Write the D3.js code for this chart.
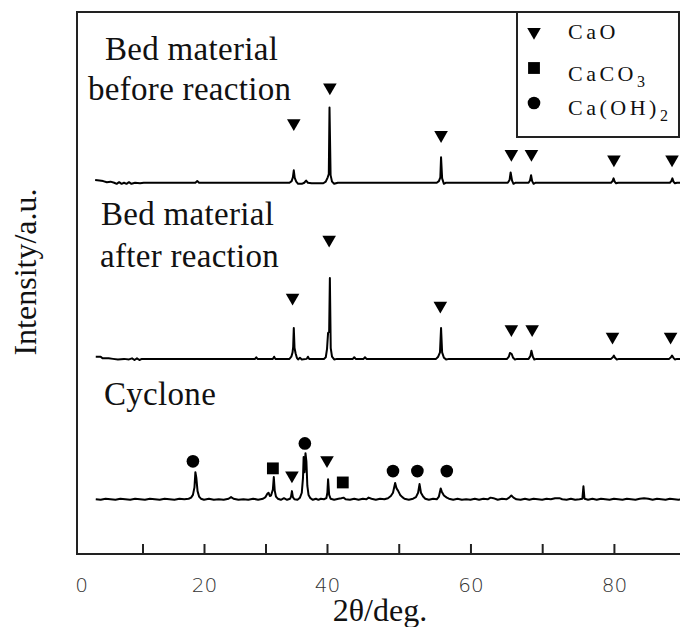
<!DOCTYPE html>
<html>
<head>
<meta charset="utf-8">
<script src="https://cdn.jsdelivr.net/npm/d3@7"></script>
<style>
  body { margin: 0; background: #fff; }
  svg { display: block; }
  .serif { font-family: "Liberation Serif", "DejaVu Serif", serif; fill: #111; }
</style>
</head>
<body>
<svg width="680" height="627"></svg>
<script>
// XRD patterns, [2theta, intensity above the trace baseline]
let before = [
    [2.3, 5], [3.0, 4], [3.6, 3], [4.2, 1], [4.8, 2], [5.4, 0], [5.8, -2], [6.2, 1], [6.6, -2], [7.0, 0],
    [7.4, -2], [7.8, 1], [8.2, -2], [8.8, 0], [9.6, -1], [10.2, 0], [18.6, 0], [18.9, 3], [19.2, 0],
    [33.9, 0], [34.25, 3], [34.45, 10], [34.6, 23], [34.75, 9], [35.0, 2], [35.3, -2], [35.9, -2], [36.3, 0],
    [36.6, 4], [36.9, 0], [37.5, -1], [39.4, -1], [39.8, 2], [40.1, 10], [40.25, 16], [40.35, 139], [40.5, 14],
    [40.7, 2], [41.0, -2], [41.5, 0], [55.3, 0], [55.6, 3], [55.8, 10], [55.9, 47], [56.05, 8], [56.3, -2],
    [56.6, 0], [65.2, 0], [65.45, 5], [65.6, 19], [65.8, 4], [66.0, -2], [66.3, 0], [68.1, 0], [68.3, 4],
    [68.45, 14], [68.6, 3], [68.8, -2], [69.1, 0], [79.6, 0], [79.8, 3], [79.95, 8], [80.1, 2], [80.3, -1],
    [80.6, 0], [87.8, 0], [88.0, 3], [88.15, 8], [88.3, 2], [88.5, -1], [88.8, 0], [92, 0]
];
let after = [
    [2.4, 4], [3.2, 4], [3.5, 1], [4.5, 1], [5.2, 0], [6.0, -1], [7.0, 0], [7.8, -1], [8.3, 1], [8.7, -2],
    [9.1, 1], [9.5, -2], [9.9, 0], [10.5, 0], [28.3, 0], [28.5, 3], [28.7, 0], [31.2, 0], [31.4, 4], [31.6, 0],
    [33.9, 0], [34.2, 4], [34.4, 12], [34.5, 22], [34.6, 57], [34.72, 20], [34.9, 10], [35.1, 2], [35.3, -1],
    [35.6, 2], [35.9, -1], [36.7, 0], [36.9, 4], [37.1, 0], [39.5, 0], [39.8, 3], [40.0, 18], [40.15, 48],
    [40.3, 50], [40.4, 149], [40.52, 20], [40.7, 4], [41.0, -1], [41.4, 0], [43.6, 0], [43.8, 3], [44.0, 0],
    [45.1, 0], [45.3, 3], [45.5, 0], [55.2, 0], [55.5, 4], [55.75, 12], [55.9, 57], [56.05, 12], [56.3, 2],
    [56.6, -1], [57.0, 0], [65.1, 0], [65.35, 4], [65.5, 11], [65.75, 9], [65.95, 2], [66.2, -1], [66.5, 0],
    [68.1, 0], [68.35, 5], [68.5, 15], [68.7, 4], [68.9, -1], [69.2, 0], [79.6, 0], [79.85, 3], [80.0, 6],
    [80.15, 2], [80.4, -1], [80.7, 0], [87.7, 0], [87.95, 3], [88.1, 6], [88.3, 2], [88.5, -1], [88.8, 0], [92, 0]
];
let cyclone = [
    [2.4, 0], [3.2, -1], [4.0, 1], [4.8, 0], [5.6, -1], [6.4, 1], [7.2, 0], [8.0, -1], [8.8, 1], [9.6, 0],
    [10.4, -1], [11.2, 1], [12.0, 0], [12.8, -1], [13.6, 1], [14.4, 0], [15.2, -1], [16.0, 1], [16.8, 0], [17.5, 1],
    [17.9, 3], [18.2, 8], [18.45, 22], [18.6, 50], [18.75, 40], [18.95, 15], [19.2, 5], [19.5, 1], [20.0, -1],
    [20.8, 1], [21.6, -1], [22.4, 0], [23.2, -1], [24.0, 1], [24.4, 4], [24.8, 1], [25.6, -1], [26.4, 0],
    [27.2, -1], [28.0, 1], [28.8, -1], [29.6, 1], [30.0, 4], [30.3, 10], [30.5, 12], [30.7, 6], [30.9, 7],
    [31.2, 18], [31.35, 41], [31.5, 16], [31.7, 5], [32.0, 1], [32.5, -1], [33.0, 2], [33.5, -1], [34.0, 1],
    [34.15, 5], [34.3, 15], [34.45, 4], [34.7, 0], [35.2, -1], [35.6, 3], [35.9, 12], [36.1, 40], [36.2, 78],
    [36.35, 50], [36.5, 85], [36.65, 70], [36.8, 25], [37.0, 8], [37.3, 2], [37.7, -1], [38.2, 1], [38.6, -1],
    [39.0, 1], [39.5, 0], [39.9, 2], [40.05, 12], [40.15, 37], [40.3, 8], [40.5, 1], [41.0, -1], [41.6, 1],
    [42.0, 2], [42.3, 3], [42.6, 0], [43.2, -1], [43.8, 1], [44.4, -1], [45.0, 1], [45.5, 0], [45.8, 3],
    [46.2, 1], [46.8, -1], [47.4, 1], [48.0, 0], [48.5, 2], [48.9, 6], [49.2, 12], [49.5, 30], [49.7, 20],
    [49.9, 16], [50.2, 8], [50.5, 4], [50.8, 1], [51.4, -1], [52.0, 1], [52.4, 4], [52.7, 12], [52.9, 28],
    [53.1, 12], [53.4, 5], [53.7, 1], [54.2, -1], [54.8, 1], [55.3, 0], [55.6, 5], [55.85, 20], [56.0, 14],
    [56.3, 7], [56.7, 3], [57.0, 1], [57.6, -1], [58.2, 1], [58.8, -1], [59.4, 0], [60.0, -1], [60.6, 1],
    [61.2, -1], [61.8, 1], [62.4, 0], [62.8, 3], [63.2, 2], [63.8, -1], [64.4, 1], [65.0, 0], [65.4, 3],
    [65.7, 7], [66.0, 3], [66.4, 0], [67.0, -1], [67.6, 1], [68.2, -1], [68.8, 1], [69.4, 0], [70.0, -1],
    [70.6, 1], [71.2, 0], [71.8, 2], [72.4, 2], [72.8, 0], [73.4, -1], [74.0, 1], [74.6, -1], [75.2, 0],
    [75.6, 1], [75.75, 24], [75.9, 1], [76.4, -1], [77.0, 1], [77.6, -1], [78.2, 1], [78.8, 0], [79.4, -1],
    [80.0, 1], [80.6, 0], [81.2, -1], [81.8, 1], [82.4, 0], [83.0, -1], [83.6, 1], [84.2, 2], [84.8, 1],
    [85.4, -1], [86.0, 1], [86.6, 0], [87.2, -1], [87.8, 1], [88.4, 0], [89.0, -1], [89.6, 1], [90.2, 0], [92, 0]
];

// vertical offset of each trace (a.u.)
let offsets = [685, 360, 101];

// phase markers [2theta, height above trace baseline]
let beforeCaO = [[34.6, 110], [40.4, 176], [55.9, 88], [65.7, 53], [68.5, 53], [80.0, 43], [88.1, 43]];
let afterCaO = [[34.4, 113], [40.3, 220], [55.8, 98], [65.7, 55], [68.6, 55], [79.8, 41], [87.9, 41]];
let cycloneCaO = [[34.3, 44], [40.0, 72]];
let cycloneCaCO3 = [[31.2, 57], [42.2, 31]];
let cycloneCaOH2 = [[18.2, 70], [36.4, 103], [49.2, 52], [52.6, 52], [56.7, 52]];

let tickMarks = [10, 20, 30, 40, 50, 60, 70, 80, 90];
let tickLabels = [0, 20, 40, 60, 80];

let svg = d3.select("svg");

// the printed axis is stretched past 40 degrees, so the scale is piecewise
let x = d3.scaleLinear().domain([0, 40, 92]).range([81, 327, 700]);
let y = d3.scaleLinear().domain([0, 1000]).range([554, 12]);

// frame
svg.append("path")
    .attr("d", "M700,12H77V554H700")
    .attr("fill", "none")
    .attr("stroke", "#222")
    .attr("stroke-width", 2);

let tickAxis = svg.append("g")
    .attr("transform", "translate(0,554)")
    .call(d3.axisBottom(x).tickValues(tickMarks).tickSize(-10).tickFormat(""));
tickAxis.select(".domain").remove();
tickAxis.selectAll("line").attr("stroke", "#222").attr("stroke-width", 2);

let labelAxis = svg.append("g")
    .attr("transform", "translate(0,554)")
    .call(d3.axisBottom(x).tickValues(tickLabels).tickSize(0).tickPadding(24));
labelAxis.select(".domain").remove();
labelAxis.selectAll("text")
    .style("font-family", "'DejaVu Sans', sans-serif")
    .style("font-size", "20px")
    .style("font-weight", "300")
    .attr("fill", "#333");

// traces
let line = d3.line()
    .x(function(d) { return x(d[0]); })
    .y(function(d) { return y(d[1] + d.off); });

[before, after, cyclone].forEach(function(trace, i) {
    trace.forEach(function(d) { d.off = offsets[i]; });
    svg.append("path")
        .datum(trace)
        .attr("d", line)
        .attr("fill", "none")
        .attr("stroke", "#000")
        .attr("stroke-width", 2)
        .attr("stroke-linejoin", "round");
});

let tri = d3.symbol().type(d3.symbolTriangle).size(80);
let sq = d3.symbol().type(d3.symbolSquare).size(140);
let circ = d3.symbol().type(d3.symbolCircle).size(125);

function markers(data, off, sym, flip) {
    svg.selectAll(null)
        .data(data)
        .enter()
        .append("path")
        .attr("d", sym)
        .attr("fill", "#000")
        .attr("transform", function(d) {
            return "translate(" + x(d[0]) + "," + y(d[1] + off) + ")" + (flip ? " rotate(180)" : "");
        });
}
markers(beforeCaO, offsets[0], tri, true);
markers(afterCaO, offsets[1], tri, true);
markers(cycloneCaO, offsets[2], tri, true);
markers(cycloneCaCO3, offsets[2], sq, false);
markers(cycloneCaOH2, offsets[2], circ, false);

// sample labels
let labels = [
    ["Bed material", 105, 60], ["before reaction", 88, 100],
    ["Bed material", 101, 225], ["after reaction", 100, 267],
    ["Cyclone", 104, 405]
];
svg.selectAll(".lab")
    .data(labels)
    .enter()
    .append("text")
    .attr("class", "serif")
    .attr("x", function(d) { return d[1]; })
    .attr("y", function(d) { return d[2]; })
    .style("font-size", "33px")
    .style("letter-spacing", "0.3px")
    .text(function(d) { return d[0]; });

// legend
svg.append("rect")
    .attr("x", 517).attr("y", 12)
    .attr("width", 162).attr("height", 125)
    .attr("fill", "#fff")
    .attr("stroke", "#222")
    .attr("stroke-width", 2);

svg.append("path").attr("d", tri).attr("transform", "translate(534,32) rotate(180)");
svg.append("path").attr("d", sq).attr("transform", "translate(534,68)");
svg.append("path").attr("d", circ).attr("transform", "translate(534,103)");

let leg = svg.append("g")
    .attr("class", "serif")
    .style("font-size", "22px")
    .style("letter-spacing", "3.5px");
leg.append("text").attr("x", 568).attr("y", 39).text("CaO");
let t2 = leg.append("text").attr("x", 568).attr("y", 81);
t2.append("tspan").text("CaCO");
t2.append("tspan").attr("dy", 6).style("font-size", "16px").text("3");
let t3 = leg.append("text").attr("x", 568).attr("y", 115);
t3.append("tspan").text("Ca(OH)");
t3.append("tspan").attr("dy", 6).style("font-size", "16px").text("2");

// axis titles
svg.append("text")
    .attr("class", "serif")
    .attr("transform", "translate(36,272) rotate(-90)")
    .style("text-anchor", "middle")
    .style("font-size", "32px")
    .text("Intensity/a.u.");

svg.append("text")
    .attr("class", "serif")
    .attr("x", 380)
    .attr("y", 621)
    .style("text-anchor", "middle")
    .style("font-size", "32px")
    .text("2θ/deg.");
</script>
</body>
</html>
